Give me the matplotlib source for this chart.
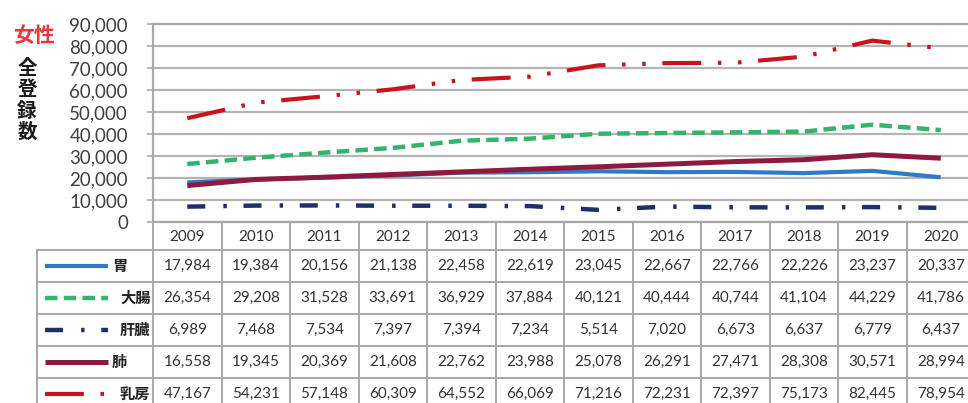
import matplotlib
matplotlib.use('Agg')
import matplotlib.pyplot as plt
import matplotlib.transforms as mtransforms
from matplotlib.lines import Line2D
from matplotlib.ticker import FuncFormatter

# data (female, total registrations)
years = [2009, 2010, 2011, 2012, 2013, 2014, 2015, 2016, 2017, 2018, 2019, 2020]
sites = ['胃', '大腸', '肝臓', '肺', '乳房']
stomach = [17984, 19384, 20156, 21138, 22458, 22619, 23045, 22667, 22766, 22226, 23237, 20337]
colon = [26354, 29208, 31528, 33691, 36929, 37884, 40121, 40444, 40744, 41104, 44229, 41786]
liver = [6989, 7468, 7534, 7397, 7394, 7234, 5514, 7020, 6673, 6637, 6779, 6437]
lung = [16558, 19345, 20369, 21608, 22762, 23988, 25078, 26291, 27471, 28308, 30571, 28994]
breast = [47167, 54231, 57148, 60309, 64552, 66069, 71216, 72231, 72397, 75173, 82445, 78954]
series = [stomach, colon, liver, lung, breast]
yticks = [0, 10000, 20000, 30000, 40000, 50000, 60000, 70000, 80000, 90000]

plt.rcParams['font.family'] = ['Lato', 'Noto Sans CJK JP', 'DejaVu Sans']
plt.rcParams['lines.scale_dashes'] = False

styles = [
    dict(color='#2E7BC4', lw=3.0, ls='-'),
    dict(color='#33B36B', lw=3.2, ls=(0, (9, 4.5))),
    dict(color='#1F2F6B', lw=3.2, ls=(0, (13, 13, 2.5, 12))),
    dict(color='#8E1B3E', lw=3.6, ls='-'),
    dict(color='#C8141E', lw=3.0, ls=(0, (28, 12, 2.5, 12, 2.5, 12))),
]

W, H = 968, 403
fig = plt.figure(figsize=(9.68, 4.03), dpi=100)

def fx(px):
    return px / W

def fy(py):
    return 1 - py / H

ax = fig.add_axes([fx(153), fy(222), fx(975) - fx(153), fy(24) - fy(222)])
x = list(range(len(years)))
for vals, st in zip(series, styles):
    ax.plot(x, vals, color=st['color'], lw=st['lw'], linestyle=st['ls'],
            solid_capstyle='butt', dash_capstyle='butt')

ax.set_xlim(-0.5, len(years) - 0.5)
ax.set_ylim(0, 90000)
ax.set_yticks(yticks)
ax.yaxis.set_major_formatter(FuncFormatter(lambda v, p: f'{int(v):,}'))
ax.set_xticks([])
ax.grid(axis='y', color='#B4B4B4', lw=1.6)
ax.set_axisbelow(True)
for s in ['top', 'left', 'bottom']:
    ax.spines[s].set_color('#A8A8A8')
    ax.spines[s].set_linewidth(1.6)
ax.spines['right'].set_visible(False)
ax.tick_params(axis='y', length=4, width=1.2, color='#A8A8A8', pad=14,
               labelsize=13.5, labelcolor='#404040')

# side titles
fig.text(fx(13), fy(35), '女性', ha='left', va='center', color='#E8383D',
         fontsize=15, weight='bold', family=['Noto Sans CJK JP', 'DejaVu Sans'])
for i, ch in enumerate('全登録数'):
    fig.text(fx(27), fy(68 + i * 21.5), ch, ha='center', va='center', color='#1A1A1A',
             fontsize=14, weight='bold', family=['Noto Sans CJK JP', 'DejaVu Sans'])

# data table
grid_c = '#A8A8A8'
txt_c = '#333333'
rows_y = [222, 250, 282, 314, 346, 378, 410]
blend = mtransforms.blended_transform_factory(ax.transData, fig.transFigure)

for i, yy in enumerate(rows_y):
    x0 = fx(153) if i == 0 else fx(37)
    fig.add_artist(Line2D([x0, 1.02], [fy(yy), fy(yy)], transform=fig.transFigure,
                          color=grid_c, lw=1.4))
for k in range(len(years) + 1):
    fig.add_artist(Line2D([k - 0.5, k - 0.5], [fy(222), fy(410)], transform=blend,
                          color=grid_c, lw=1.4))
fig.add_artist(Line2D([fx(37), fx(37)], [fy(250), fy(410)], transform=fig.transFigure,
                      color=grid_c, lw=1.4))

for k, yr in enumerate(years):
    fig.text(k, fy(237), str(yr), transform=blend, ha='center', va='center',
             fontsize=11, color=txt_c)

for r, (name, vals, st) in enumerate(zip(sites, series, styles)):
    yc = fy((rows_y[r + 1] + rows_y[r + 2]) / 2)
    fig.add_artist(Line2D([fx(45), fx(108)], [yc, yc], transform=fig.transFigure,
                          color=st['color'], lw=st['lw'], linestyle=st['ls'],
                          solid_capstyle='butt', dash_capstyle='butt'))
    tx = 112 if len(name) == 1 else 120
    fig.text(fx(tx), yc, name, ha='left', va='center', fontsize=11, color='#222222',
             weight='bold', family=['Noto Sans CJK JP', 'DejaVu Sans'])
    for k, v in enumerate(vals):
        fig.text(k, yc, f'{v:,}', transform=blend, ha='center', va='center',
                 fontsize=11, color=txt_c)

fig.savefig('out.png', dpi=100, facecolor='white')
